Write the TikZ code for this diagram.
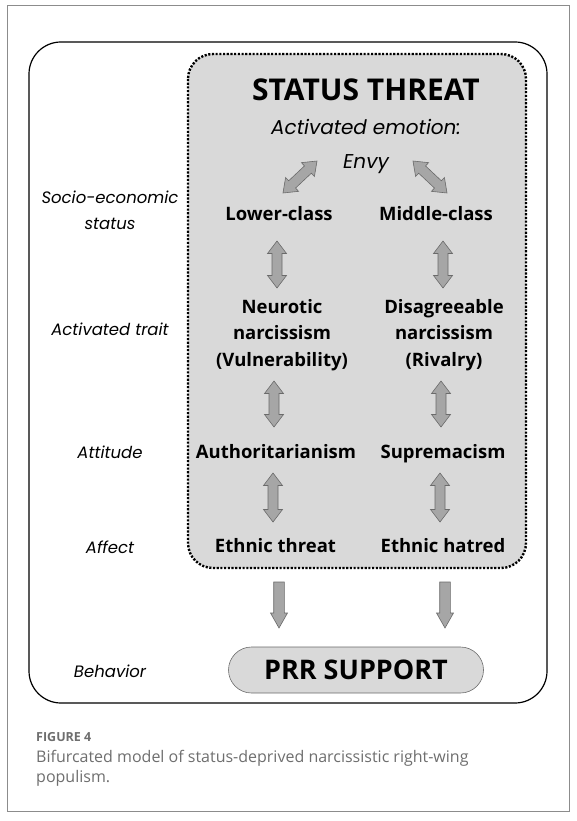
\documentclass[tikz,border=0pt]{standalone}
\usepackage{fontspec}
\setmainfont{Open Sans}
\newfontfamily\popfont{Poppins}
\usetikzlibrary{calc,positioning}

\definecolor{boxgray}{HTML}{D9D9D9}
\definecolor{arrowfill}{HTML}{A6A6A6}
\definecolor{arrowline}{HTML}{6A6A6A}
\definecolor{capgray}{HTML}{6E6E6E}
\definecolor{framegray}{HTML}{8C8C8C}

\begin{document}
\begin{tikzpicture}[
  x = 1pt, y = -1pt,
  heading/.style = {anchor = base, font = \bfseries\fontsize{30}{36}\selectfont},
  emotion/.style = {anchor = base, font = \popfont\itshape\fontsize{20}{24}\selectfont},
  level/.style = {anchor = base, align = center,
    font = \popfont\itshape\fontsize{16.5}{25}\selectfont},
  cell/.style = {anchor = base, align = center,
    font = \bfseries\fontsize{18.5}{26.5}\selectfont},
  pill/.style = {draw = arrowline, fill = boxgray, line width = 0.6pt,
    rounded corners = 23pt, minimum width = 255pt, minimum height = 46pt,
    font = \bfseries\fontsize{27}{30}\selectfont},
  both heads/.style = {draw = arrowline, fill = arrowfill, line width = 0.6pt,
    to path = {let \p1 = (\tikztostart), \p2 = (\tikztotarget),
      \n1 = {atan2(\y2-\y1,\x2-\x1)} in
      (\p1) -- ($(\p1)+(\n1:12.5pt)+(\n1+90:9.5pt)$)
      -- ($(\p1)+(\n1:12.5pt)+(\n1+90:5pt)$)
      -- ($(\p2)+(\n1:-12.5pt)+(\n1+90:5pt)$)
      -- ($(\p2)+(\n1:-12.5pt)+(\n1+90:9.5pt)$)
      -- (\p2)
      -- ($(\p2)+(\n1:-12.5pt)+(\n1-90:9.5pt)$)
      -- ($(\p2)+(\n1:-12.5pt)+(\n1-90:5pt)$)
      -- ($(\p1)+(\n1:12.5pt)+(\n1-90:5pt)$)
      -- ($(\p1)+(\n1:12.5pt)+(\n1-90:9.5pt)$) -- cycle}},
  one head/.style = {draw = arrowline, fill = arrowfill, line width = 0.6pt,
    to path = {let \p1 = (\tikztostart), \p2 = (\tikztotarget),
      \n1 = {atan2(\y2-\y1,\x2-\x1)} in
      ($(\p1)+(\n1+90:5.3pt)$)
      -- ($(\p2)+(\n1:-15pt)+(\n1+90:5.3pt)$)
      -- ($(\p2)+(\n1:-15pt)+(\n1+90:8.5pt)$)
      -- (\p2)
      -- ($(\p2)+(\n1:-15pt)+(\n1-90:8.5pt)$)
      -- ($(\p2)+(\n1:-15pt)+(\n1-90:5.3pt)$)
      -- ($(\p1)+(\n1-90:5.3pt)$) -- cycle}}
  ]

  \useasboundingbox (0,0) rectangle (577,821);

  % Frames
  \draw [framegray, line width = 1pt] (7,6) rectangle (569,811);
  \draw [line width = 1.2pt, rounded corners = 32pt] (29,42) rectangle (547,703);
  \draw [fill = boxgray, line width = 2.4pt,
    dash pattern = on 2.1pt off 1.6pt, rounded corners = 25pt]
    (188,54) rectangle (526,568);

  % Status threat
  \node at (366,101) [heading, name = threat] {STATUS THREAT};
  \node at (366,134.5) [emotion, name = emotion] {Activated emotion:};
  \node at (366,168) [emotion, name = envy] {Envy};

  % Left column (multi-line nodes sit on their last line)
  \node at (279,220) [cell, name = lower] {Lower-class};
  \node at (282,366) [cell, name = neurotic] {Neurotic\\narcissism\\(Vulnerability)};
  \node at (276,458) [cell, name = author] {Authoritarianism};
  \node at (275.5,552) [cell, name = eththreat] {Ethnic threat};

  % Right column
  \node at (436,220) [cell, name = middle] {Middle-class};
  \node at (444,366) [cell, name = disagree] {Disagreeable\\narcissism\\(Rivalry)};
  \node at (443,458) [cell, name = suprem] {Supremacism};
  \node at (443,552) [cell, name = ethhatred] {Ethnic hatred};

  % Outcome
  \node at (356,670) [pill, name = prr] {PRR SUPPORT};

  % Levels
  \node at (110,229) [level, name = ses] {Socio-economic\\status};
  \node at (110,335) [level, name = trait] {Activated trait};
  \node at (110,458) [level, name = attitude] {Attitude};
  \node at (110,553) [level, name = affect] {Affect};
  \node at (110,677) [level, name = behavior] {Behavior};

  % Arrow ends
  \coordinate (envyL) at (317,161);  \coordinate (lowerT) at (283,193);
  \coordinate (envyR) at (413,161);  \coordinate (middleT) at (447,193);
  \coordinate (lowerB) at (277,241); \coordinate (neuroticT) at (277,288);
  \coordinate (middleB) at (443,241); \coordinate (disagreeT) at (443,288);
  \coordinate (neuroticB) at (274,381); \coordinate (authorT) at (274,427);
  \coordinate (disagreeB) at (441,381); \coordinate (supremT) at (441,427);
  \coordinate (authorB) at (273,473); \coordinate (eththreatT) at (273,522);
  \coordinate (supremB) at (440,473); \coordinate (ethhatredT) at (440,522);
  \coordinate (eththreatB) at (279,582); \coordinate (prrL) at (279,628);
  \coordinate (ethhatredB) at (445,582); \coordinate (prrR) at (445,628);

  % Links
  \draw [both heads] (lowerT) to (envyL);
  \draw [both heads] (envyR) to (middleT);
  \draw [both heads] (lowerB) to (neuroticT);
  \draw [both heads] (middleB) to (disagreeT);
  \draw [both heads] (neuroticB) to (authorT);
  \draw [both heads] (disagreeB) to (supremT);
  \draw [both heads] (authorB) to (eththreatT);
  \draw [both heads] (supremB) to (ethhatredT);
  \draw [one head] (eththreatB) to (prrL);
  \draw [one head] (ethhatredB) to (prrR);

  % Caption
  \node at (36,741) [anchor = base west, inner sep = 0pt, text = capgray,
    font = \bfseries\fontsize{12.5}{14}\selectfont, name = fignum] {FIGURE 4};
  \node at (36,782) [anchor = base west, align = left, inner sep = 0pt,
    text = capgray, font = \fontsize{16}{20}\selectfont, name = caption]
    {Bifurcated model of status-deprived narcissistic right-wing\\populism.};

\end{tikzpicture}
\end{document}
